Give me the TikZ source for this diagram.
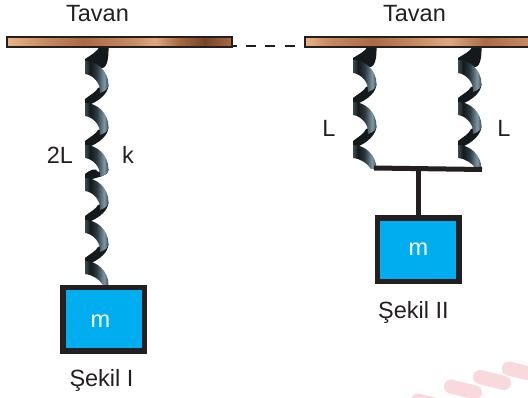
\documentclass[tikz,border=0pt]{standalone}
\usepackage{fontspec}
\setmainfont{Liberation Sans}
\definecolor{ink}{HTML}{231F20}
\definecolor{massblue}{HTML}{00AEEF}
\definecolor{wm}{HTML}{F9D9DC}
\definecolor{coildark}{HTML}{14191C}
\definecolor{barA}{HTML}{EBB389}
\definecolor{barB}{HTML}{C98B62}
\definecolor{barC}{HTML}{AA6A45}
\definecolor{barD}{HTML}{E0A77E}
\definecolor{barE}{HTML}{774328}
\definecolor{cA}{HTML}{3C4A50}
\definecolor{cB}{HTML}{14191C}
\definecolor{cC}{HTML}{2C3A41}
\definecolor{cD}{HTML}{7F98A6}
\pgfdeclarehorizontalshading{barleft}{100bp}{
  color(0bp)=(barA); color(25bp)=(barA); color(33bp)=(barB); color(42bp)=(barC); color(53bp)=(barB); color(58bp)=(barD); color(63bp)=(barC); color(69bp)=(barE); color(75bp)=(barC); color(100bp)=(barC)}
\pgfdeclarehorizontalshading{barright}{100bp}{
  color(0bp)=(barA); color(25bp)=(barA); color(30bp)=(barB); color(40bp)=(barC); color(50bp)=(barB); color(57bp)=(barD); color(65bp)=(barC); color(75bp)=(barB); color(100bp)=(barB)}
\pgfdeclarehorizontalshading{coilshade}{100bp}{
  color(0bp)=(cA); color(25bp)=(cA); color(36bp)=(cB); color(50bp)=(cC); color(66bp)=(cD); color(75bp)=(cA); color(100bp)=(cA)}
% coil band from a right-hand point to the next tip
\newcommand{\coilband}[3]{% x, tip y, period
  \fill[coildark,shift={(#1,#2)}] (23.5,24) .. controls (23.5,31) and (16,#3-2) .. (1,#3+3)
    -- (0,#3+1) -- (0,#3-4) .. controls (5,#3-8) and (11,#3-11) .. (13,27) -- cycle;}
\newcommand{\coillobe}[2]{% x, tip y
  \shade[shading=coilshade,shift={(#1,#2)}] (0,0) .. controls (12,0) and (23.5,10) .. (23.5,24)
    .. controls (23.5,27) and (21,30) .. (15,32) .. controls (16,22) and (8,14) .. (0,13) -- cycle;}
\newcommand{\coilend}[2]{%
  \shade[shading=coilshade,shift={(#1,#2)}] (0,0) .. controls (12,0) and (23.5,10) .. (23.5,24)
    -- (18,24) .. controls (14,18) and (8,14) .. (0,13) -- cycle;}
\newcommand{\coilneck}[3]{% x, tip y, top y
  \fill[coildark] (#1+23.5,#3) .. controls (#1+24,#2+4) and (#1+20,#2+12) .. (#1+10,#2+4)
    -- (#1,#2+1) -- (#1,#2-2) .. controls (#1+6,#2-6) and (#1+12,#3+6) .. (#1+15,#3) -- cycle;}
\tikzset{
  txt/.style={text=ink,inner sep=0pt,anchor=base,font=\fontsize{23.5}{23.5}\selectfont},
  masstxt/.style={text=white,inner sep=0pt,anchor=base,font=\fontsize{23.5}{23.5}\selectfont},
  massbox/.style={draw=ink,fill=massblue,line width=5.5pt,inner sep=0pt,minimum width=81.5pt,minimum height=63.5pt},
  ceiling/.style={draw=ink,line width=2pt},
  rod/.style={draw=ink,line width=5pt},
  stripe/.style={draw=wm,line width=14pt,line cap=round},
}
\begin{document}
\begin{tikzpicture}[x=1pt,y=-1pt]
\useasboundingbox (0,0) rectangle (528,398);
\clip (0,0) rectangle (528,398);
% watermark
\draw[stripe] (418,400.5) -- (442,406.5);
\draw[stripe] (451,386.5) -- (475,392.5);
\draw[stripe] (480,377) -- (504,383);
\draw[stripe] (509,368.5) -- (533,374.5);
% left spring
\coilneck{85}{61}{46}
\foreach \t/\p in {61/42,103/42,145/33,178/42,220/42}{\coilband{85}{\t}{\p}}
\foreach \t in {61,103,145,178,220}{\coillobe{85}{\t}}
\coilend{85}{261}
% right springs
\foreach \xx in {353,458}{
  \coilneck{\xx}{60}{46}
  \foreach \t/\p in {60/42,102/43}{\coilband{\xx}{\t}{\p}}
  \foreach \t in {60,102}{\coillobe{\xx}{\t}}
  \coilend{\xx}{145}
}
% ceilings
\coordinate (dashA) at (227,46);
\coordinate (dashB) at (333,46);
\draw[ink,line width=2.2pt,dash pattern=on 10pt off 9.2pt] (dashA) -- (dashB);
\shade[shading=barleft] (7,37) rectangle (232,47);
\draw[ceiling] (7,37) rectangle (232,47);
\shade[shading=barright] (305,37) rectangle (530,47);
\draw[ceiling] (305,37) rectangle (530,47);
% masses
\node[massbox] (massA) at (103.5,319.5) {};
\node[massbox] (massB) at (418,250) {};
\coordinate (barL) at (374,168);
\coordinate (barR) at (482,169.5);
\coordinate (barM) at (418,169);
\draw[rod] (barL) -- (barR);
\draw[rod] (barM) -- (massB.north);
% labels
\node[txt] (tavanA) at (97.5,22) {Tavan};
\node[txt] (tavanB) at (414.5,22) {Tavan};
\node[txt] (lenA) at (60,164) {2L};
\node[txt] (stiff) at (128,164) {k};
\node[txt] (lenB) at (329,137) {L};
\node[txt] (lenC) at (504,137) {L};
\node[masstxt] (mA) at (100.5,327) {m};
\node[masstxt] (mB) at (418.5,256) {m};
\node[txt] (capA) at (101.5,387) {Şekil I};
\node[txt] (capB) at (413.5,319) {Şekil II};
\end{tikzpicture}
\end{document}
